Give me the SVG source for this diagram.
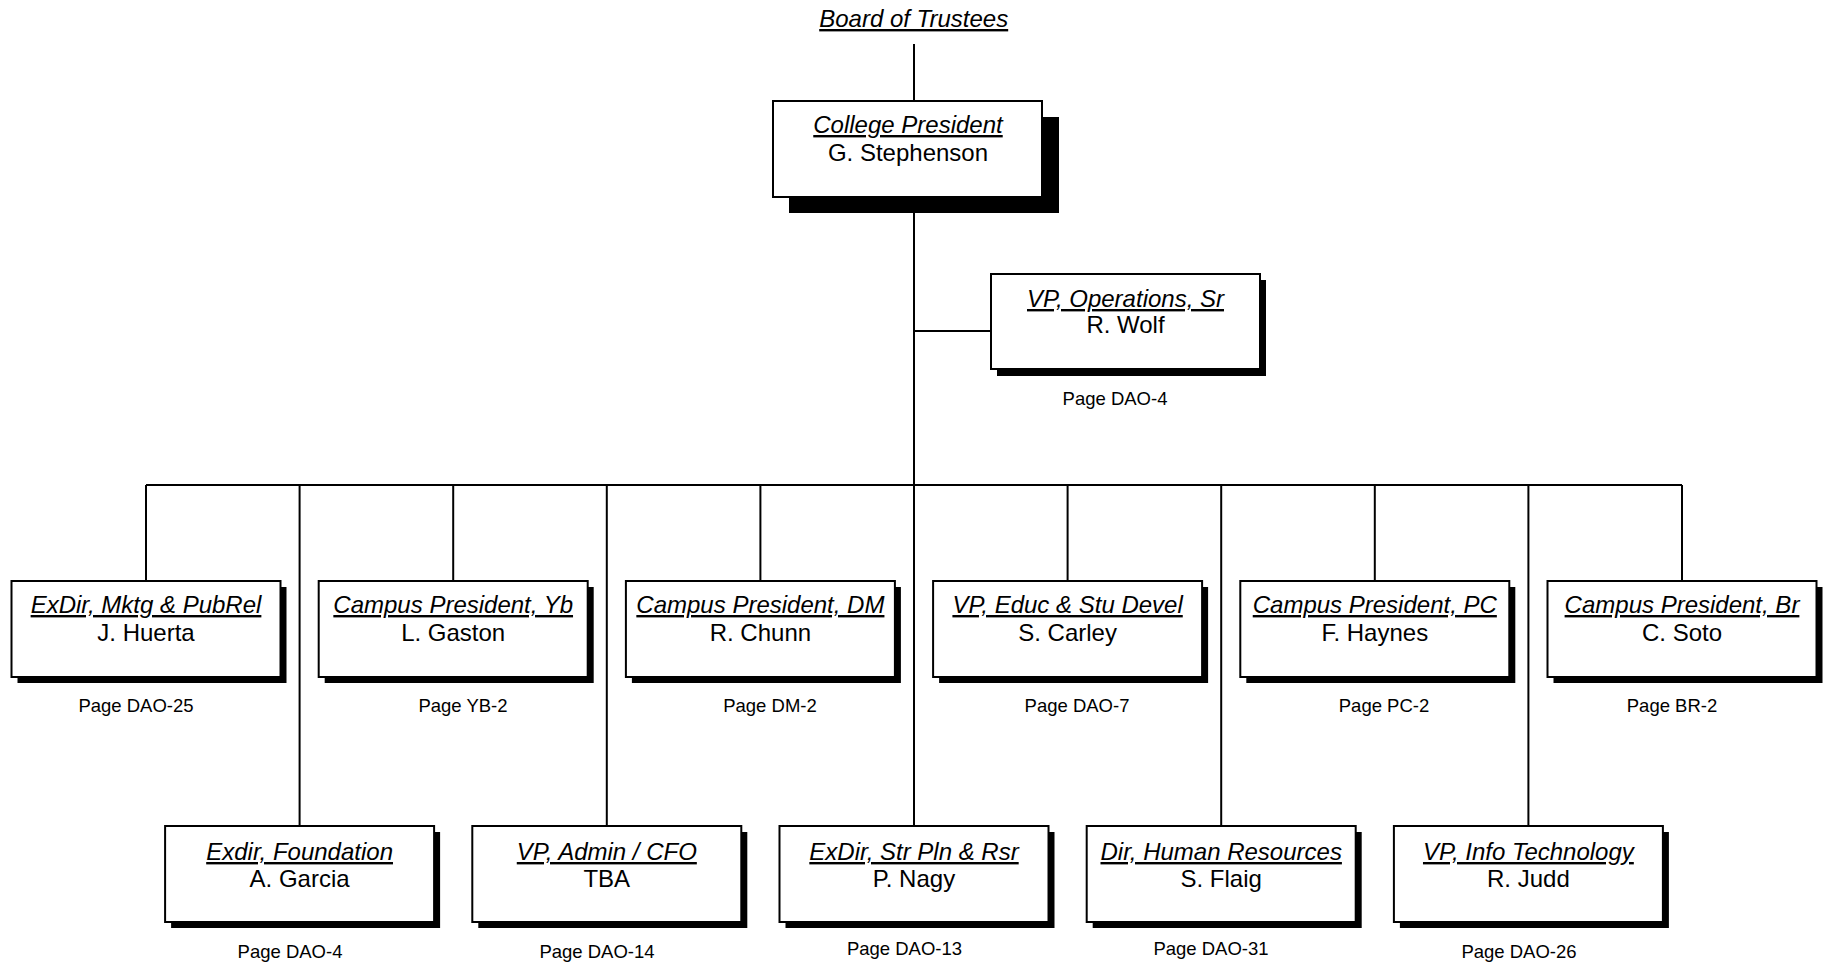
<svg xmlns="http://www.w3.org/2000/svg" width="1829" height="964" viewBox="0 0 1829 964">
<style>
.bg{fill:#fff}
.box{fill:#fff;stroke:#000;stroke-width:2}
.sh{fill:#000}
.ln{stroke:#000;stroke-width:2;fill:none}
text{font-family:"Liberation Sans",Arial,sans-serif;fill:#000;text-anchor:middle}
.t{font-size:24px;font-style:italic;text-decoration:underline;text-decoration-skip-ink:none}
.n{font-size:24px}
.p{font-size:18.5px}
</style>
<rect class="bg" x="0" y="0" width="1829" height="964"/>
<g id="connectors">
<line class="ln" x1="914" y1="44" x2="914" y2="101"/>
<line class="ln" x1="914" y1="197" x2="914" y2="826"/>
<line class="ln" x1="914" y1="331" x2="991" y2="331"/>
<line class="ln" x1="146" y1="485" x2="1682" y2="485"/>
<line class="ln" x1="146" y1="485" x2="146" y2="581"/>
<line class="ln" x1="299.6" y1="485" x2="299.6" y2="826"/>
<line class="ln" x1="453.2" y1="485" x2="453.2" y2="581"/>
<line class="ln" x1="606.8" y1="485" x2="606.8" y2="826"/>
<line class="ln" x1="760.4" y1="485" x2="760.4" y2="581"/>
<line class="ln" x1="1067.6" y1="485" x2="1067.6" y2="581"/>
<line class="ln" x1="1221.2" y1="485" x2="1221.2" y2="826"/>
<line class="ln" x1="1374.8" y1="485" x2="1374.8" y2="581"/>
<line class="ln" x1="1528.4" y1="485" x2="1528.4" y2="826"/>
<line class="ln" x1="1682" y1="485" x2="1682" y2="581"/>
</g>
<g id="board">
<text class="t" x="913.7" y="27">Board of Trustees</text>
</g>
<g id="college-president">
<rect class="sh" x="789" y="117" width="270" height="96"/>
<rect class="box" x="773" y="101" width="269" height="96"/>
<text class="t" x="908" y="133">College President</text>
<text class="n" x="908" y="161">G. Stephenson</text>
</g>
<g id="vp-operations">
<rect class="sh" x="997" y="280" width="269" height="96"/>
<rect class="box" x="991" y="274" width="269" height="95"/>
<text class="t" x="1125.5" y="307">VP, Operations, Sr</text>
<text class="n" x="1125.5" y="333">R. Wolf</text>
<text class="p" x="1115" y="405">Page DAO-4</text>
</g>
<g id="exdir-mktg">
<rect class="sh" x="17.5" y="587" width="269" height="96"/>
<rect class="box" x="11.5" y="581" width="269" height="96"/>
<text class="t" x="146" y="613">ExDir, Mktg &amp; PubRel</text>
<text class="n" x="146" y="641">J. Huerta</text>
<text class="p" x="136" y="712">Page DAO-25</text>
</g>
<g id="campus-yb">
<rect class="sh" x="324.7" y="587" width="269" height="96"/>
<rect class="box" x="318.7" y="581" width="269" height="96"/>
<text class="t" x="453.2" y="613">Campus President, Yb</text>
<text class="n" x="453.2" y="641">L. Gaston</text>
<text class="p" x="463" y="712">Page YB-2</text>
</g>
<g id="campus-dm">
<rect class="sh" x="631.9" y="587" width="269" height="96"/>
<rect class="box" x="625.9" y="581" width="269" height="96"/>
<text class="t" x="760.4" y="613">Campus President, DM</text>
<text class="n" x="760.4" y="641">R. Chunn</text>
<text class="p" x="770" y="712">Page DM-2</text>
</g>
<g id="vp-educ">
<rect class="sh" x="939.1" y="587" width="269" height="96"/>
<rect class="box" x="933.1" y="581" width="269" height="96"/>
<text class="t" x="1067.6" y="613">VP, Educ &amp; Stu Devel</text>
<text class="n" x="1067.6" y="641">S. Carley</text>
<text class="p" x="1077" y="712">Page DAO-7</text>
</g>
<g id="campus-pc">
<rect class="sh" x="1246.3" y="587" width="269" height="96"/>
<rect class="box" x="1240.3" y="581" width="269" height="96"/>
<text class="t" x="1374.8" y="613">Campus President, PC</text>
<text class="n" x="1374.8" y="641">F. Haynes</text>
<text class="p" x="1384" y="712">Page PC-2</text>
</g>
<g id="campus-br">
<rect class="sh" x="1553.5" y="587" width="269" height="96"/>
<rect class="box" x="1547.5" y="581" width="269" height="96"/>
<text class="t" x="1682" y="613">Campus President, Br</text>
<text class="n" x="1682" y="641">C. Soto</text>
<text class="p" x="1672" y="712">Page BR-2</text>
</g>
<g id="exdir-foundation">
<rect class="sh" x="171.1" y="832" width="269" height="96"/>
<rect class="box" x="165.1" y="826" width="269" height="96"/>
<text class="t" x="299.6" y="860">Exdir, Foundation</text>
<text class="n" x="299.6" y="887">A. Garcia</text>
<text class="p" x="290" y="958">Page DAO-4</text>
</g>
<g id="vp-admin">
<rect class="sh" x="478.3" y="832" width="269" height="96"/>
<rect class="box" x="472.3" y="826" width="269" height="96"/>
<text class="t" x="606.8" y="860">VP, Admin / CFO</text>
<text class="n" x="606.8" y="887">TBA</text>
<text class="p" x="597" y="958">Page DAO-14</text>
</g>
<g id="exdir-strpln">
<rect class="sh" x="785.5" y="832" width="269" height="96"/>
<rect class="box" x="779.5" y="826" width="269" height="96"/>
<text class="t" x="914" y="860">ExDir, Str Pln &amp; Rsr</text>
<text class="n" x="914" y="887">P. Nagy</text>
<text class="p" x="904.5" y="955">Page DAO-13</text>
</g>
<g id="dir-hr">
<rect class="sh" x="1092.7" y="832" width="269" height="96"/>
<rect class="box" x="1086.7" y="826" width="269" height="96"/>
<text class="t" x="1221.2" y="860">Dir, Human Resources</text>
<text class="n" x="1221.2" y="887">S. Flaig</text>
<text class="p" x="1211" y="955">Page DAO-31</text>
</g>
<g id="vp-it">
<rect class="sh" x="1399.9" y="832" width="269" height="96"/>
<rect class="box" x="1393.9" y="826" width="269" height="96"/>
<text class="t" x="1528.4" y="860">VP, Info Technology</text>
<text class="n" x="1528.4" y="887">R. Judd</text>
<text class="p" x="1519" y="958">Page DAO-26</text>
</g>
</svg>
